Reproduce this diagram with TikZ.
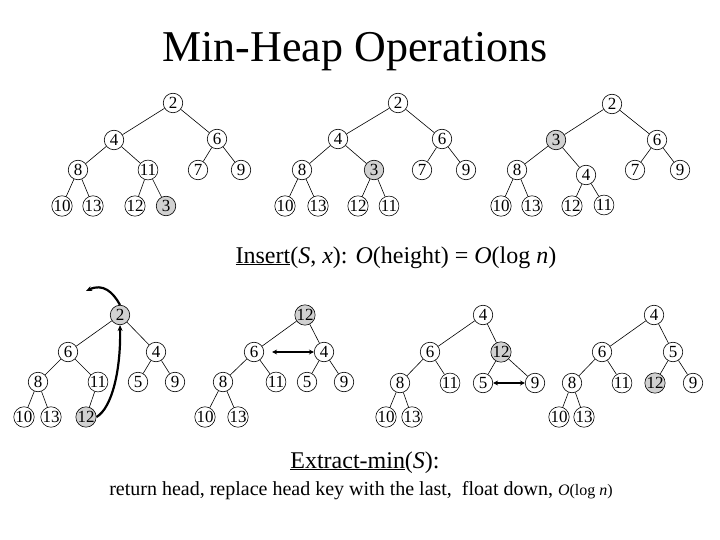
\documentclass[tikz,border=0pt]{standalone}
\usepackage{fontspec}
\setmainfont{Liberation Serif}
\usetikzlibrary{arrows.meta}
\tikzset{
  hn/.style={circle,draw,line width=0.6pt,minimum size=19.5pt,inner sep=0pt,font=\fontsize{17}{17}\selectfont},
  hl/.style={hn,fill=black!18},
  ed/.style={line width=0.6pt},
  mv/.style={line width=2.2pt},
  tip/.style={-{Stealth[length=6pt,width=5pt]}},
  dtip/.style={{Stealth[length=5pt,width=5pt]}-{Stealth[length=5pt,width=5pt]}}
}
\begin{document}
\begin{tikzpicture}[x=1pt,y=-1pt]
\useasboundingbox (0,0) rectangle (720,540);
\node[anchor=base,font=\fontsize{44}{50}\selectfont] (title) at (355,62) {Min-Heap Operations};

% ---------- Tree A ----------
\node[hn] (a2) at (173,103) {2};
\node[hn] (a4) at (114,140) {4};
\node[hn] (a6) at (217,139) {6};
\node[hn] (a8) at (78,170) {8};
\node[hn] (a11) at (148,170) {11};
\node[hn] (a7) at (198,170) {7};
\node[hn] (a9) at (241,170) {9};
\node[hn] (a10) at (62,206) {10};
\node[hn] (a13) at (93,206) {13};
\node[hn] (a12) at (135,206) {12};
\node[hl] (a3) at (166,206) {3};
\draw[ed] (a2)--(a4) (a2)--(a6) (a4)--(a8) (a4)--(a11) (a6)--(a7) (a6)--(a9)
  (a8)--(a10) (a8)--(a13) (a11)--(a12) (a11)--(a3);

% ---------- Tree B ----------
\node[hn] (b2) at (398,103) {2};
\node[hn] (b4) at (338,139) {4};
\node[hn] (b6) at (442,139) {6};
\node[hn] (b8) at (302,170) {8};
\node[hl] (b3) at (374,170) {3};
\node[hn] (b7) at (422,170) {7};
\node[hn] (b9) at (466,170) {9};
\node[hn] (b10) at (285,206) {10};
\node[hn] (b13) at (318,206) {13};
\node[hn] (b12) at (358,206) {12};
\node[hn] (b11) at (389,206) {11};
\draw[ed] (b2)--(b4) (b2)--(b6) (b4)--(b8) (b4)--(b3) (b6)--(b7) (b6)--(b9)
  (b8)--(b10) (b8)--(b13) (b3)--(b12) (b3)--(b11);

% ---------- Tree C ----------
\node[hn] (c2) at (612,104) {2};
\node[hl] (c3) at (556,140) {3};
\node[hn] (c6) at (657,140) {6};
\node[hn] (c8) at (517,170) {8};
\node[hn] (c4) at (586,175) {4};
\node[hn] (c7) at (635,170) {7};
\node[hn] (c9) at (680,170) {9};
\node[hn] (c10) at (501,206) {10};
\node[hn] (c13) at (532,206) {13};
\node[hn] (c12) at (572,206) {12};
\node[hn] (c11) at (604,205) {11};
\draw[ed] (c2)--(c3) (c2)--(c6) (c3)--(c8) (c3)--(c4) (c6)--(c7) (c6)--(c9)
  (c8)--(c10) (c8)--(c13) (c4)--(c12) (c4)--(c11);

\node[anchor=base,font=\fontsize{24}{28}\selectfont] (ins) at (396,263)
  {\underline{Insert}(\textit{S}, \textit{x}): \textit{O}(height) = \textit{O}(log \textit{n})};

% ---------- Tree D ----------
\node[hl] (d2) at (120,315) {2};
\node[hn] (d6) at (68,352) {6};
\node[hn] (d4) at (156,352) {4};
\node[hn] (d8) at (38,382) {8};
\node[hn] (d11) at (98,382) {11};
\node[hn] (d5) at (138,382) {5};
\node[hn] (d9) at (175,382) {9};
\node[hn] (d10) at (24,417) {10};
\node[hn] (d13) at (51,417) {13};
\node[hl] (d12) at (86,417) {12};
\draw[ed] (d2)--(d6) (d2)--(d4) (d6)--(d8) (d6)--(d11) (d4)--(d5) (d4)--(d9)
  (d8)--(d10) (d8)--(d13) (d11)--(d12);
\coordinate (dout) at (86,291);
\draw[mv,tip] (d12.east) .. controls (112,408) and (121,370) .. (d2.south);
\draw[mv,tip] (d2.north) .. controls (113,292) and (103,283) .. (dout);

% ---------- Tree E ----------
\node[hl] (e12) at (305,315) {12};
\node[hn] (e6) at (254,352) {6};
\node[hn] (e4) at (324,352) {4};
\node[hn] (e8) at (223,382) {8};
\node[hn] (e11) at (276,382) {11};
\node[hn] (e5) at (307,382) {5};
\node[hn] (e9) at (344,382) {9};
\node[hn] (e10) at (205,417) {10};
\node[hn] (e13) at (238,417) {13};
\draw[ed] (e12)--(e6) (e12)--(e4) (e6)--(e8) (e6)--(e11) (e4)--(e5) (e4)--(e9)
  (e8)--(e10) (e8)--(e13);
\draw[mv,dtip] ([xshift=8pt]e6.east) -- (e4.west);

% ---------- Tree F ----------
\node[hn] (f4) at (483,315) {4};
\node[hn] (f6) at (430,352) {6};
\node[hl] (f12) at (501,352) {12};
\node[hn] (f8) at (400,383) {8};
\node[hn] (f11) at (450,383) {11};
\node[hn] (f5) at (483,383) {5};
\node[hn] (f9) at (535,383) {9};
\node[hn] (f10) at (386,417) {10};
\node[hn] (f13) at (412,417) {13};
\draw[ed] (f4)--(f6) (f4)--(f12) (f6)--(f8) (f6)--(f11) (f12)--(f5) (f12)--(f9)
  (f8)--(f10) (f8)--(f13);
\draw[mv,dtip] (f5.east) -- (f9.west);

% ---------- Tree G ----------
\node[hn] (g4) at (654,315) {4};
\node[hn] (g6) at (602,352) {6};
\node[hn] (g5) at (673,352) {5};
\node[hn] (g8) at (572,383) {8};
\node[hn] (g11) at (622,383) {11};
\node[hl] (g12) at (655,383) {12};
\node[hn] (g9) at (693,383) {9};
\node[hn] (g10) at (559,417) {10};
\node[hn] (g13) at (584,417) {13};
\draw[ed] (g4)--(g6) (g4)--(g5) (g6)--(g8) (g6)--(g11) (g5)--(g12) (g5)--(g9)
  (g8)--(g10) (g8)--(g13);

\node[anchor=base,font=\fontsize{24}{28}\selectfont] (ext) at (365,468)
  {\underline{Extract-min}(\textit{S}):};
\node[anchor=base,font=\fontsize{20}{24}\selectfont] (ret) at (361,495)
  {return head, replace head key with the last,\ \ float down, {\fontsize{16}{20}\selectfont\textit{O}(log \textit{n})}};
\end{tikzpicture}
\end{document}
